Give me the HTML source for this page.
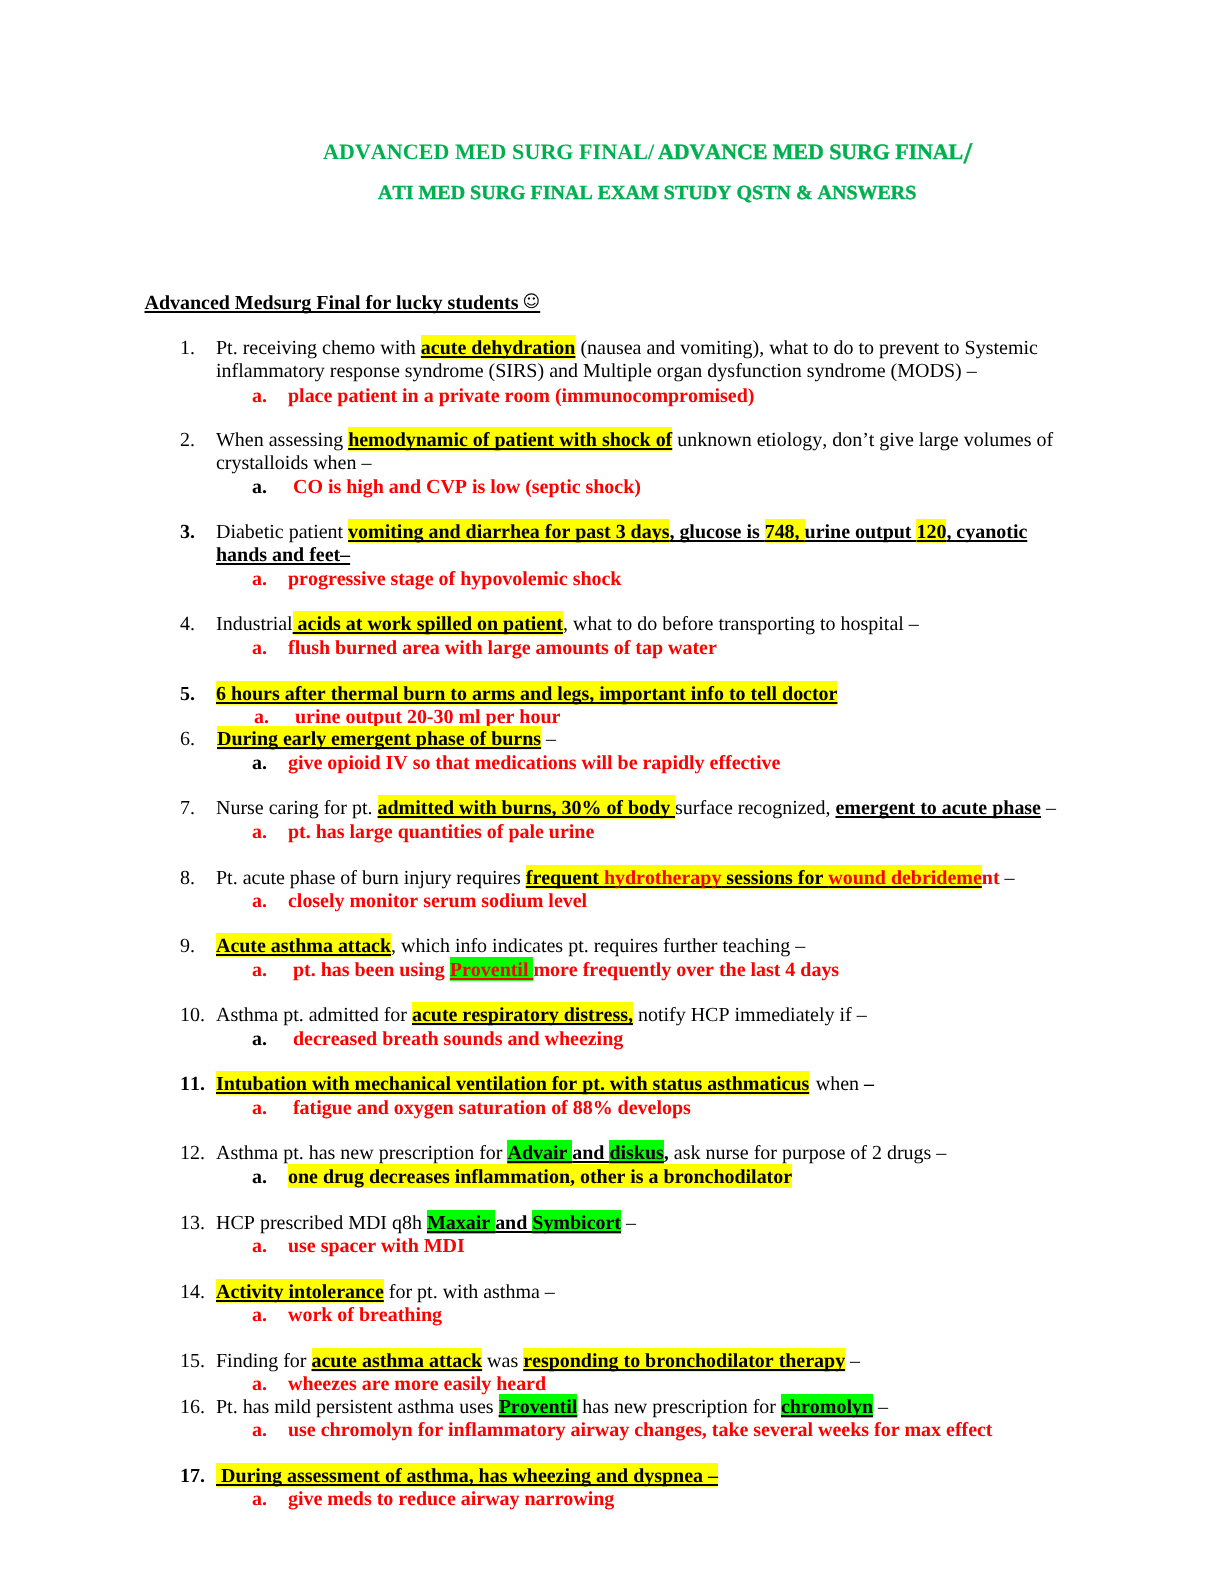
<!DOCTYPE html>
<html lang="en">
<head>
<meta charset="utf-8">
<title>Advanced Med Surg Final</title>
<style>
html,body{margin:0;padding:0;background:#fff;}
body{width:1224px;height:1584px;position:relative;overflow:hidden;
  font-family:"Liberation Serif","Times New Roman",serif;font-size:20px;color:#000;font-kerning:none;font-variant-ligatures:none;text-rendering:geometricPrecision;}
.l{letter-spacing:-0.004px;}
.l b,.a{letter-spacing:-0.025px;}
.pg{position:absolute;left:0;top:0;width:1224px;height:1584px;will-change:transform;}
.l{position:absolute;white-space:nowrap;line-height:23px;height:23px;}
.q{left:180px;}
.c{left:216px;}
.a{left:252px;font-weight:bold;color:#f00;}
.n{display:inline-block;width:36px;}
.m{display:inline-block;width:36px;}
b{font-weight:bold;}
u{text-decoration:underline;text-decoration-thickness:2.4px;text-underline-offset:1.5px;text-decoration-skip-ink:none;}
.y{background:linear-gradient(#ff0,#ff0) 0 0/100% calc(100% - 0.2px) no-repeat;padding-top:2.4px;}
.g{background:linear-gradient(#0f0,#0f0) 0 0/100% calc(100% - 0.2px) no-repeat;padding-top:2.4px;}
.r{color:#f00;}
.k{color:#000;}
.cb{-webkit-text-stroke:0.4px #00b050;}
.sl{font-size:30px;line-height:0;position:relative;top:3.5px;margin-left:0.5px;}
.sm{font-family:"DejaVu Sans",sans-serif;font-weight:normal;font-size:17px;line-height:0;position:relative;top:-2.3px;margin-left:-1px;margin-right:-1px;}
.t{position:absolute;white-space:nowrap;color:#00b050;font-weight:bold;font-size:22px;line-height:30px;}
</style>
</head>
<body>
<div class="pg">
<div class="t" style="top:137px;left:323px;letter-spacing:0.07px">ADVANCED MED SURG FINAL/</div>
<div class="t cb" style="top:137px;left:658px;letter-spacing:-0.1px">ADVANCE MED SURG FINAL<span class="sl">/</span></div>
<div class="t cb" style="top:178px;left:378px;font-size:20px;letter-spacing:-0.014px">ATI MED SURG FINAL EXAM STUDY QSTN &amp; ANSWERS</div>

<div class="l" style="top:292px;left:144.5px"><b><u style="text-underline-offset:2.2px">Advanced Medsurg Final for lucky students <span class="sm">☺</span></u></b></div>

<div class="l q" style="top:337px"><span class="n">1.</span>Pt. receiving chemo with <b class="y"><u>acute dehydration</u></b> (nausea and vomiting), what to do to prevent to Systemic</div>
<div class="l c" style="top:360px">inflammatory response syndrome (SIRS) and Multiple organ dysfunction syndrome (MODS) –</div>
<div class="l a" style="top:385px"><span class="m">a.</span>place patient in a private room (immunocompromised)</div>

<div class="l q" style="top:429px"><span class="n">2.</span>When assessing <b class="y"><u>hemodynamic of patient with shock of</u></b> unknown etiology, don’t give large volumes of</div>
<div class="l c" style="top:452px">crystalloids when –</div>
<div class="l a" style="top:476px"><span class="m k">a.</span>&nbsp;CO is high and CVP is low (septic shock)</div>

<div class="l q" style="top:521px"><span class="n"><b>3.</b></span>Diabetic patient <b><u><span class="y">vomiting and diarrhea for past 3 days</span>, glucose is <span class="y">748, </span>urine output <span class="y">120</span>, cyanotic</u></b></div>
<div class="l c" style="top:544px"><b><u>hands and feet–</u></b></div>
<div class="l a" style="top:568px"><span class="m">a.</span>progressive stage of hypovolemic shock</div>

<div class="l q" style="top:613px"><span class="n">4.</span>Industrial<b class="y"><u> acids at work spilled on patient</u></b>, what to do before transporting to hospital –</div>
<div class="l a" style="top:637px"><span class="m">a.</span>flush burned area with large amounts of tap water</div>

<div class="l q" style="top:683px"><span class="n"><b>5.</b></span><b class="y"><u>6 hours after thermal burn to arms and legs, important info to tell doctor</u></b></div>
<div class="l a" style="top:706px;left:254px"><span class="m" style="width:41px">a.</span>urine output 20-30 ml per hour</div>
<div class="l q" style="top:728px"><span class="n">6.</span><b class="y" style="margin-left:1px"><u>During early emergent phase of burns</u></b> –</div>
<div class="l a" style="top:752px"><span class="m k">a.</span>give opioid IV so that medications will be rapidly effective</div>

<div class="l q" style="top:797px"><span class="n">7.</span>Nurse caring for pt. <b class="y"><u>admitted with burns, 30% of body </u></b>surface recognized, <b><u>emergent to acute phase</u></b> –</div>
<div class="l a" style="top:821px"><span class="m">a.</span>pt. has large quantities of pale urine</div>

<div class="l q" style="top:867px"><span class="n">8.</span>Pt. acute phase of burn injury requires <b class="y"><u>frequent <span class="r">hydrotherapy</span> sessions for <span class="r">wound debrideme</span></u></b><b class="r">nt</b> –</div>
<div class="l a" style="top:890px"><span class="m">a.</span>closely monitor serum sodium level</div>

<div class="l q" style="top:935px"><span class="n">9.</span><b class="y"><u>Acute asthma attack</u></b>, which info indicates pt. requires further teaching –</div>
<div class="l a" style="top:959px"><span class="m">a.</span>&nbsp;pt. has been using <span class="g"><u>Proventil </u></span>more frequently over the last 4 days</div>

<div class="l q" style="top:1004px"><span class="n">10.</span>Asthma pt. admitted for <b class="y"><u>acute respiratory distress,</u></b> notify HCP immediately if –</div>
<div class="l a" style="top:1028px"><span class="m k">a.</span>&nbsp;decreased breath sounds and wheezing</div>

<div class="l q" style="top:1073px"><span class="n"><b>11.</b></span><b class="y"><u>Intubation with mechanical ventilation for pt. with status asthmaticus</u></b><span style="margin-left:1.5px"> when </span><b>–</b></div>
<div class="l a" style="top:1097px"><span class="m">a.</span>&nbsp;fatigue and oxygen saturation of 88% develops</div>

<div class="l q" style="top:1142px"><span class="n">12.</span>Asthma pt. has new prescription for <b><u><span class="g">Advair </span>and <span class="g">diskus</span></u>,</b> ask nurse for purpose of 2 drugs –</div>
<div class="l a" style="top:1166px"><span class="m k">a.</span><span class="y k">one drug decreases inflammation, other is a bronchodilator</span></div>

<div class="l q" style="top:1212px"><span class="n">13.</span>HCP prescribed MDI q8h <b><u><span class="g">Maxair </span>and <span class="g">Symbicort</span></u></b> –</div>
<div class="l a" style="top:1235px"><span class="m">a.</span>use spacer with MDI</div>

<div class="l q" style="top:1281px"><span class="n">14.</span><b class="y"><u>Activity intolerance</u></b> for pt. with asthma –</div>
<div class="l a" style="top:1304px"><span class="m">a.</span>work of breathing</div>

<div class="l q" style="top:1350px"><span class="n">15.</span>Finding for <b class="y"><u>acute asthma attack</u></b> was <b class="y"><u>responding to bronchodilator therapy</u></b> –</div>
<div class="l a" style="top:1373px"><span class="m">a.</span>wheezes are more easily heard</div>
<div class="l q" style="top:1396px"><span class="n">16.</span>Pt. has mild persistent asthma uses <b class="g"><u>Proventil</u></b> has new prescription for <b class="g"><u>chromolyn</u></b> –</div>
<div class="l a" style="top:1419px"><span class="m">a.</span>use chromolyn for inflammatory airway changes, take several weeks for max effect</div>

<div class="l q" style="top:1465px"><span class="n"><b>17.</b></span><b class="y"><u> During assessment of asthma, has wheezing and dyspnea –</u></b></div>
<div class="l a" style="top:1488px"><span class="m">a.</span>give meds to reduce airway narrowing</div>
</div>
</body>
</html>
